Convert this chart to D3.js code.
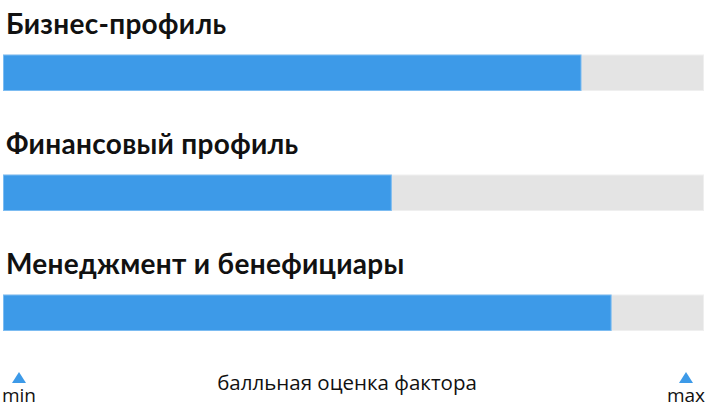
<!DOCTYPE html>
<html>
<head>
<meta charset="utf-8">
<script src="https://cdn.jsdelivr.net/npm/d3@7.9.0/dist/d3.min.js"></script>
<style>
  body { margin: 0; background: #fff; }
  svg { display: block; }
</style>
</head>
<body>
<svg id="chart" width="707" height="415"></svg>
<script>
// factor groups and their score (0 = min, 1 = max)
const categories = ['Бизнес-профиль', 'Финансовый профиль', 'Менеджмент и бенефициары'];
const scores = [0.825, 0.554, 0.868];
const scaleLabels = ['min', 'max'];
const axisTitle = 'балльная оценка фактора';

const svg = d3.select('#chart');
const barH = 35.5;

let x = d3.scaleLinear().domain([0, 1]).range([3.5, 703.5]);
let y = d3.scalePoint().domain(categories).range([55, 295]);

// titles
svg.selectAll('text.title')
  .data(categories)
  .join('text')
  .attr('class', 'title')
  .attr('x', 6)
  .attr('y', d => y(d) - 21)
  .attr('font-family', 'Lato, sans-serif')
  .attr('font-weight', 700)
  .attr('font-size', 28)
  .attr('letter-spacing', 0.3)
  .attr('fill', '#111')
  .text(d => d);

// background track
svg.selectAll('rect.track')
  .data(categories)
  .join('rect')
  .attr('class', 'track')
  .attr('x', x(0))
  .attr('y', d => y(d))
  .attr('width', x(1) - x(0))
  .attr('height', barH)
  .attr('fill', '#e4e4e4')
  .attr('stroke', '#efefef')
  .attr('stroke-width', 1);

// score bars
svg.selectAll('rect.bar')
  .data(categories)
  .join('rect')
  .attr('class', 'bar')
  .attr('x', x(0))
  .attr('y', d => y(d))
  .attr('width', (d, i) => x(scores[i]) - x(0))
  .attr('height', barH)
  .attr('fill', '#3d9ae8')
  .attr('stroke', '#7cbcf2')
  .attr('stroke-width', 1);

// min / max markers
const ends = [0, 1];
const markerX = [19, 686];
svg.selectAll('path.marker')
  .data(ends)
  .join('path')
  .attr('class', 'marker')
  .attr('d', (d, i) => `M${markerX[i] - 7},383 L${markerX[i] + 7},383 L${markerX[i]},372 Z`)
  .attr('fill', '#3d9ae8');

svg.selectAll('text.end')
  .data(scaleLabels)
  .join('text')
  .attr('class', 'end')
  .attr('x', (d, i) => markerX[i])
  .attr('y', 402)
  .attr('text-anchor', 'middle')
  .attr('font-family', '"Open Sans", sans-serif')
  .attr('font-size', 19)
  .attr('fill', '#111')
  .text(d => d);

svg.append('text')
  .attr('x', 347)
  .attr('y', 390)
  .attr('text-anchor', 'middle')
  .attr('font-family', '"Open Sans", sans-serif')
  .attr('font-size', 20.5)
  .attr('fill', '#111')
  .text(axisTitle);
</script>
</body>
</html>
